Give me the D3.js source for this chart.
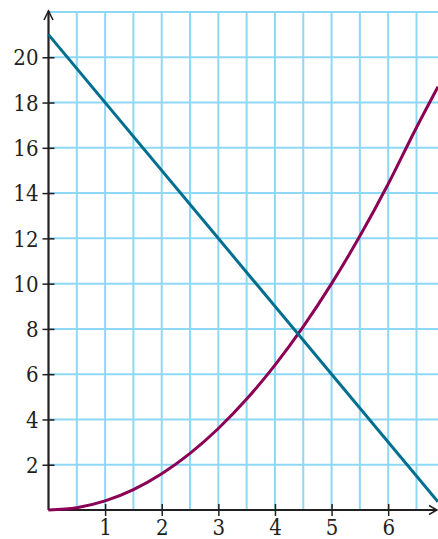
<!DOCTYPE html>
<html>
<head>
<meta charset="utf-8">
<script src="https://cdn.jsdelivr.net/npm/d3@7"></script>
<style>
  body { margin: 0; background: #fff; }
  svg { display: block; }
</style>
</head>
<body>
<svg id="chart"></svg>
<script>
// values
const xTicks = [1, 2, 3, 4, 5, 6];
const yTicks = [2, 4, 6, 8, 10, 12, 14, 16, 18, 20];
const xGrid = [0.5, 1, 1.5, 2, 2.5, 3, 3.5, 4, 4.5, 5, 5.5, 6, 6.5];
const yGrid = [2, 4, 6, 8, 10, 12, 14, 16, 18, 20, 22];

// straight line (blue)
const lineX = [0, 6.88];
const lineY = [21, 0.36];

// curve (purple)
const curveX = [0, 0.5, 1, 1.5, 2, 2.5, 3, 3.5, 4, 4.5, 5, 5.5, 6, 6.5, 6.88];
const curveY = [0, 0.1, 0.4, 0.9, 1.6, 2.5, 3.6, 4.9, 6.4, 8.1, 10, 12.1, 14.4, 16.9, 18.7];

const config = {
    width: 438,
    height: 539,
    margin: { top: 12, right: 0, bottom: 29, left: 48.5 }
};

const svg = d3.select('#chart')
    .attr('width', config.width)
    .attr('height', config.height);

const w = config.width - config.margin.left - config.margin.right;
const h = config.height - config.margin.top - config.margin.bottom;

const chart = svg.append('g')
    .attr('transform', `translate(${config.margin.left},${config.margin.top})`);

const xScale = d3.scaleLinear().domain([0, 6.88]).range([0, w]);
const yScale = d3.scaleLinear().domain([0, 22]).range([h, 0]);

// grid
chart.selectAll('.vgrid')
    .data(xGrid)
    .join('line')
    .attr('class', 'vgrid')
    .attr('x1', d => xScale(d)).attr('x2', d => xScale(d))
    .attr('y1', yScale(22)).attr('y2', h)
    .attr('stroke', '#8fd8f5')
    .attr('stroke-width', 2);

chart.selectAll('.hgrid')
    .data(yGrid)
    .join('line')
    .attr('class', 'hgrid')
    .attr('x1', 0).attr('x2', w)
    .attr('y1', d => yScale(d)).attr('y2', d => yScale(d))
    .attr('stroke', '#8fd8f5')
    .attr('stroke-width', 2);

// axes
const xAxis = d3.axisBottom(xScale).tickValues(xTicks).tickSize(6).tickFormat(d3.format('d'));
const yAxis = d3.axisLeft(yScale).tickValues(yTicks).tickSize(6).tickFormat(d3.format('d'));

const xAxisG = chart.append('g')
    .attr('transform', `translate(0,${h})`)
    .call(xAxis)
    .attr('font-size', null).attr('font-family', null);
xAxisG.select('.domain').remove();
xAxisG.selectAll('.tick line')
    .attr('y1', -6).attr('y2', 6)
    .attr('stroke', '#231f20').attr('stroke-width', 1.5);
xAxisG.selectAll('.tick text').attr('y', 9).attr('dy', '0.71em');

const yAxisG = chart.append('g').call(yAxis)
    .attr('font-size', null).attr('font-family', null);
yAxisG.select('.domain').remove();
yAxisG.selectAll('.tick line')
    .attr('x1', -6).attr('x2', 6)
    .attr('stroke', '#231f20').attr('stroke-width', 1.5);
yAxisG.selectAll('.tick text').attr('x', -10).attr('dy', '0.35em');

[xAxisG, yAxisG].forEach(g => g.selectAll('.tick text')
    .attr('font-family', '"DejaVu Serif", serif')
    .attr('font-size', 22)
    .style('font-stretch', 'condensed')
    .attr('fill', '#231f20'));

// axis lines with arrows
chart.append('line')
    .attr('x1', 0).attr('x2', 0)
    .attr('y1', h).attr('y2', yScale(22) - 1)
    .attr('stroke', '#231f20').attr('stroke-width', 2.2);
chart.append('path')
    .attr('d', `M-4.5,${yScale(22) + 8} L0,${yScale(22) - 1} L4.5,${yScale(22) + 8}`)
    .attr('fill', 'none').attr('stroke', '#231f20').attr('stroke-width', 1.6);

chart.append('line')
    .attr('x1', 0).attr('x2', w - 1)
    .attr('y1', h).attr('y2', h)
    .attr('stroke', '#231f20').attr('stroke-width', 2.2);
chart.append('path')
    .attr('d', `M${w - 9},${h - 4.5} L${w - 1},${h} L${w - 9},${h + 4.5}`)
    .attr('fill', 'none').attr('stroke', '#231f20').attr('stroke-width', 1.6);

// series
const line = d3.line()
    .x(d => xScale(d[0]))
    .y(d => yScale(d[1]));

chart.append('path')
    .datum(d3.zip(curveX, curveY))
    .attr('fill', 'none')
    .attr('stroke', '#8b0055')
    .attr('stroke-width', 3)
    .attr('d', line.curve(d3.curveMonotoneX));

chart.append('path')
    .datum(d3.zip(lineX, lineY))
    .attr('fill', 'none')
    .attr('stroke', '#006e8f')
    .attr('stroke-width', 3)
    .attr('d', d3.line().x(d => xScale(d[0])).y(d => yScale(d[1])));
</script>
</body>
</html>
